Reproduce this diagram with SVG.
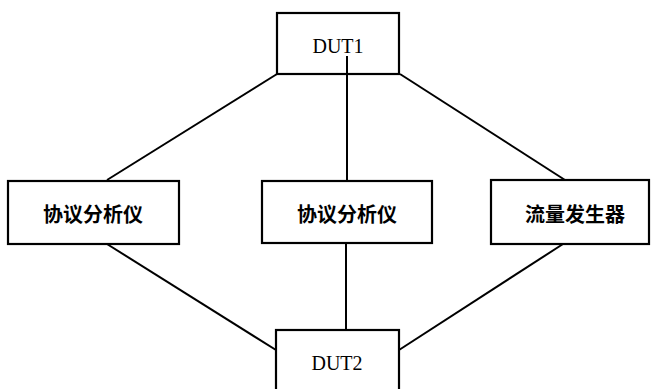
<svg xmlns="http://www.w3.org/2000/svg" width="651" height="389" viewBox="0 0 651 389">
<style>
.box{fill:none;stroke:#000;stroke-width:2.2}
.ln{stroke:#000;stroke-width:2;fill:none}
.en{font-family:"Liberation Serif",serif;font-size:20px;text-anchor:middle;fill:#000}
.zh{font-family:"Noto Sans CJK SC",sans-serif;font-size:20px;font-weight:700;text-anchor:middle;fill:#000}
</style>
<rect width="651" height="389" fill="#fff"/>
<g id="connectors">
<line class="ln" x1="277" y1="74" x2="107" y2="180"/>
<line class="ln" x1="400" y1="74" x2="565" y2="180"/>
<line class="ln" x1="347" y1="56" x2="347" y2="182"/>
<line class="ln" x1="107" y1="244" x2="276" y2="350"/>
<line class="ln" x1="563" y1="244" x2="399" y2="350"/>
<line class="ln" x1="346" y1="243" x2="346" y2="330"/>
</g>
<g id="dut1">
<rect class="box" x="277" y="13" width="122" height="61"/>
<text class="en" x="338" y="53">DUT1</text>
</g>
<g id="analyzer1">
<rect class="box" x="8" y="181" width="171" height="63"/>
<text class="zh" x="93" y="222">协议分析仪</text>
</g>
<g id="analyzer2">
<rect class="box" x="262" y="181" width="170" height="62"/>
<text class="zh" x="347" y="222">协议分析仪</text>
</g>
<g id="generator">
<rect class="box" x="491" y="180" width="158" height="64"/>
<text class="zh" x="575" y="222">流量发生器</text>
</g>
<g id="dut2">
<rect class="box" x="276" y="330" width="123" height="70"/>
<text class="en" x="337" y="370">DUT2</text>
</g>
</svg>
